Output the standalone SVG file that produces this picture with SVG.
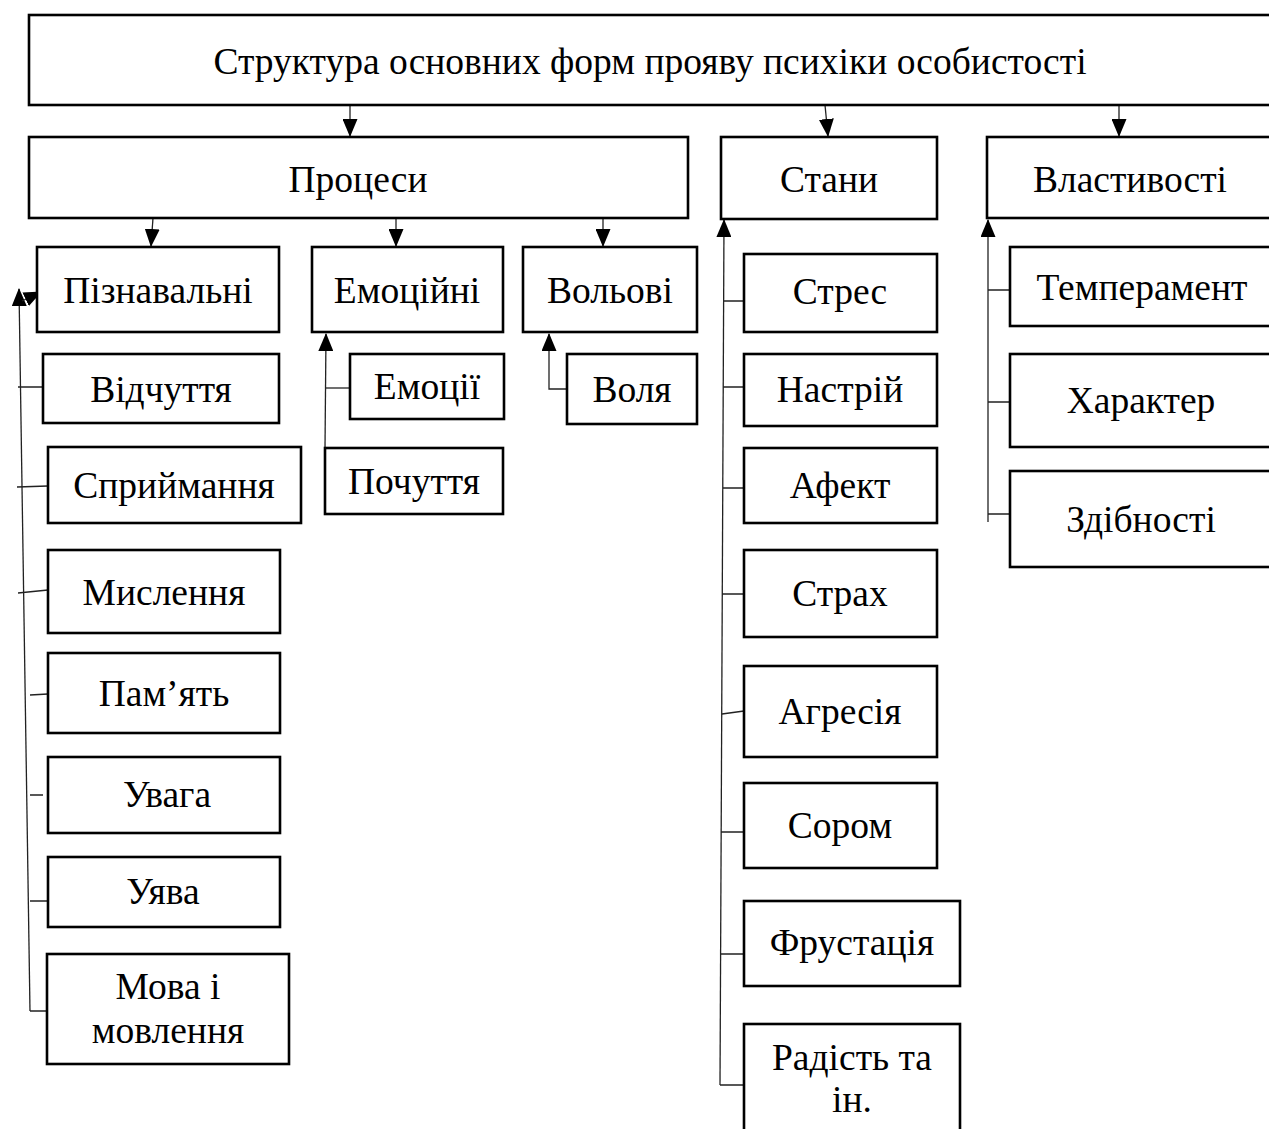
<svg xmlns="http://www.w3.org/2000/svg" width="1269" height="1129" viewBox="0 0 1269 1129">
<style>
.box{fill:#fff;stroke:#000;stroke-width:2.6}
.t{font-family:"Liberation Serif","Times New Roman",serif;font-size:37.5px;fill:#000;text-anchor:middle}
.c{fill:none;stroke:#222;stroke-width:1.3}
</style>
<defs>
<marker id="ah" markerUnits="userSpaceOnUse" markerWidth="18" markerHeight="15" refX="17" refY="7.5" orient="auto" viewBox="0 0 18 15">
<path d="M0,0 L18,7.5 L0,15 z" fill="#000"/>
</marker>
</defs>
<rect width="1269" height="1129" fill="#fff"/>
<g id="connectors">
<path class="c" d="M350,105 L350,136" marker-end="url(#ah)"/>
<path class="c" d="M825,105 L828,136" marker-end="url(#ah)"/>
<path class="c" d="M1119,105 L1119,136" marker-end="url(#ah)"/>
<path class="c" d="M153,218 L151,246" marker-end="url(#ah)"/>
<path class="c" d="M396,218 L396,246" marker-end="url(#ah)"/>
<path class="c" d="M603,218 L603,246" marker-end="url(#ah)"/>
<path class="c" d="M325,448 L326,334" marker-end="url(#ah)"/>
<path class="c" d="M326,388 L350,388"/>
<path class="c" d="M567,389 L549,389 L549,334" marker-end="url(#ah)"/>
<path class="c" d="M720,1085 L724,220" marker-end="url(#ah)"/>
<path class="c" d="M723,301 L744,301 M723,387 L744,387 M723,488 L744,488 M722,594 L744,594 M722,714 L744,711 M721,832 L744,832 M721,954 L744,954 M720,1085 L744,1085"/>
<path class="c" d="M988,522 L988,220" marker-end="url(#ah)"/>
<path class="c" d="M988,290 L1010,290 M988,402 L1010,402 M988,514 L1010,514"/>
<path class="c" d="M30,1011 L19,289" marker-end="url(#ah)"/>
<path class="c" d="M22,301 L41,292" marker-end="url(#ah)"/>
<path class="c" d="M30,1011 L48,1011 M18,387 L43,387 M17,487 L48,486 M18,593 L48,590 M30,695 L48,694 M30,795 L43,795 M30,901 L48,901"/>
</g>
<g id="n-title"><rect class="box" x="29" y="15" width="1245" height="90"/><text class="t" x="650" y="74">Структура основних форм прояву психіки особистості</text></g>
<g id="n-procesy"><rect class="box" x="29" y="137" width="659" height="81"/><text class="t" x="358" y="192">Процеси</text></g>
<g id="n-stany"><rect class="box" x="721" y="137" width="216" height="82"/><text class="t" x="829" y="192">Стани</text></g>
<g id="n-vlastyvosti"><rect class="box" x="987" y="137" width="287" height="81"/><text class="t" x="1130" y="192">Властивості</text></g>
<g id="n-piznavalni"><rect class="box" x="37" y="247" width="242" height="85"/><text class="t" x="158" y="303">Пізнавальні</text></g>
<g id="n-emotsiini"><rect class="box" x="312" y="247" width="191" height="85"/><text class="t" x="407" y="303">Емоційні</text></g>
<g id="n-volovi"><rect class="box" x="523" y="247" width="174" height="85"/><text class="t" x="610" y="303">Вольові</text></g>
<g id="n-vidchuttia"><rect class="box" x="43" y="354" width="236" height="69"/><text class="t" x="161" y="402">Відчуття</text></g>
<g id="n-spryimannia"><rect class="box" x="48" y="447" width="253" height="76"/><text class="t" x="174" y="498">Сприймання</text></g>
<g id="n-myslennia"><rect class="box" x="48" y="550" width="232" height="83"/><text class="t" x="164" y="605">Мислення</text></g>
<g id="n-pamiat"><rect class="box" x="48" y="653" width="232" height="80"/><text class="t" x="164" y="706">Пам’ять</text></g>
<g id="n-uvaha"><rect class="box" x="48" y="757" width="232" height="76"/><text class="t" x="167" y="807">Увага</text></g>
<g id="n-uiava"><rect class="box" x="48" y="857" width="232" height="70"/><text class="t" x="163" y="904">Уява</text></g>
<g id="n-mova"><rect class="box" x="47" y="954" width="242" height="110"/><text class="t" x="168" y="999">Мова і</text><text class="t" x="168" y="1043">мовлення</text></g>
<g id="n-emotsii"><rect class="box" x="350" y="354" width="154" height="65"/><text class="t" x="427" y="399">Емоції</text></g>
<g id="n-pochuttia"><rect class="box" x="325" y="448" width="178" height="66"/><text class="t" x="414" y="494">Почуття</text></g>
<g id="n-volia"><rect class="box" x="567" y="354" width="130" height="70"/><text class="t" x="632" y="402">Воля</text></g>
<g id="n-stres"><rect class="box" x="744" y="254" width="193" height="78"/><text class="t" x="840" y="304">Стрес</text></g>
<g id="n-nastrii"><rect class="box" x="744" y="354" width="193" height="72"/><text class="t" x="840" y="402">Настрій</text></g>
<g id="n-afekt"><rect class="box" x="744" y="448" width="193" height="75"/><text class="t" x="840" y="498">Афект</text></g>
<g id="n-strakh"><rect class="box" x="744" y="550" width="193" height="87"/><text class="t" x="840" y="606">Страх</text></g>
<g id="n-ahresiia"><rect class="box" x="744" y="666" width="193" height="91"/><text class="t" x="840" y="724">Агресія</text></g>
<g id="n-sorom"><rect class="box" x="744" y="783" width="193" height="85"/><text class="t" x="840" y="838">Сором</text></g>
<g id="n-frustatsiia"><rect class="box" x="744" y="901" width="216" height="85"/><text class="t" x="852" y="955">Фрустація</text></g>
<g id="n-radist"><rect class="box" x="744" y="1024" width="216" height="130"/><text class="t" x="852" y="1070">Радість та</text><text class="t" x="852" y="1112">ін.</text></g>
<g id="n-temperament"><rect class="box" x="1010" y="247" width="264" height="79"/><text class="t" x="1142" y="300">Темперамент</text></g>
<g id="n-kharakter"><rect class="box" x="1010" y="354" width="264" height="93"/><text class="t" x="1141" y="413">Характер</text></g>
<g id="n-zdibnosti"><rect class="box" x="1010" y="471" width="264" height="96"/><text class="t" x="1141" y="532">Здібності</text></g>
</svg>
